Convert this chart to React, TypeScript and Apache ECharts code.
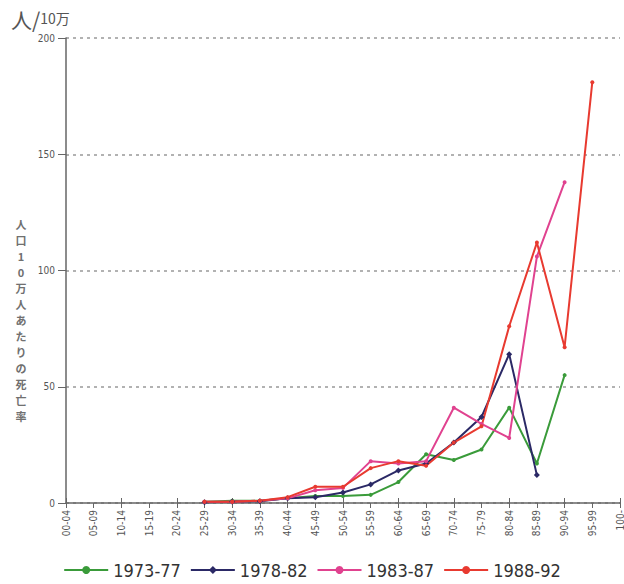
import React, { useEffect, useRef } from "react";
import * as echarts from "echarts";

const categories = ["00-04","05-09","10-14","15-19","20-24","25-29","30-34","35-39","40-44","45-49","50-54","55-59","60-64","65-69","70-74","75-79","80-84","85-89","90-94","95-99","100-"];
const seriesNames = ["1973-77", "1978-82", "1983-87", "1988-92"];
const s1973 = [null,null,null,null,null,0.5,1,1,2,3,3,3.5,9,21,18.5,23,41,17,55,null,null];
const s1978 = [null,null,null,null,null,0.3,0.5,0.8,2,2.5,4.5,8,14,17,26,37,64,12,null,null,null];
const s1983 = [null,null,null,null,null,0.5,0.5,1,2,5.5,6.5,18,17,18,41,34,28,106,138,null,null];
const s1988 = [null,null,null,null,null,0.5,0.5,1,2.5,7,7,15,18,16,26,33,76,112,67,181,null];
const yTicks = { min: 0, max: 200, interval: 50 };
const colors = ["#3a9b3a", "#2b2966", "#e0428f", "#e83a30"];
const yUnit = "人/10万";
const yTitle = "人口10万人あたりの死亡率";

export default function App() {
  const ref = useRef<HTMLDivElement>(null);
  useEffect(() => {
    document.body.style.margin = "0";
    const chart = echarts.init(ref.current!, null, { renderer: "svg" });
    const data = [s1973, s1978, s1983, s1988];
    const titleChars = yTitle.split("").map((ch, i) => ({
      type: "text",
      x: 21,
      y: 218 + i * 16,
      style: {
        text: ch,
        fontSize: 11,
        fontWeight: "bold",
        fill: "#707070",
        fontFamily: "Noto Sans CJK JP",
        align: "center",
        verticalAlign: "top",
      },
    }));
    chart.setOption({
      animation: false,
      backgroundColor: "#ffffff",
      textStyle: { fontFamily: "DejaVu Sans" },
      grid: { left: 66, right: 4, top: 38, bottom: 81, containLabel: false, outerBoundsMode: "none" },
      legend: {
        data: seriesNames,
        left: "center",
        top: 556,
        itemWidth: 44,
        itemHeight: 10,
        itemGap: 9,
        textStyle: { fontSize: 18, color: "#333", fontFamily: "DejaVu Sans Condensed, DejaVu Sans" },
      },
      graphic: [
        {
          type: "text",
          left: 11,
          top: 8,
          style: {
            text: "{a|人/}{b|10万}",
            rich: {
              a: { fontSize: 21, fill: "#555", fontFamily: "Noto Sans CJK JP" },
              b: { fontSize: 14, fill: "#555", fontFamily: "Noto Sans CJK JP" },
            },
          },
        },
        ...titleChars,
      ],
      xAxis: [
        {
          type: "category",
          data: categories,
          boundaryGap: false,
          axisLine: { lineStyle: { color: "#666", width: 1.5 } },
          axisTick: { alignWithLabel: true, length: 5, lineStyle: { color: "#666" } },
          axisLabel: { rotate: 90, fontSize: 10, color: "#555", margin: 7, interval: 0, fontFamily: "DejaVu Sans Condensed, DejaVu Sans" },
          splitLine: { show: false },
        },
        {
          type: "category",
          data: categories,
          boundaryGap: false,
          position: "bottom",
          axisLine: { show: false },
          axisTick: { inside: true, length: 5, lineStyle: { color: "#666" } },
          axisLabel: { show: false },
          splitLine: { show: false },
        },
      ],
      yAxis: {
        type: "value",
        min: yTicks.min,
        max: yTicks.max,
        interval: yTicks.interval,
        axisLine: { show: true, lineStyle: { color: "#666", width: 1.5 } },
        axisTick: { show: true, length: 8, lineStyle: { color: "#666" } },
        axisLabel: { fontSize: 10, color: "#555", margin: 11, fontFamily: "DejaVu Sans Condensed, DejaVu Sans" },
        splitLine: { show: true, lineStyle: { color: "#999", type: [3, 4], width: 1.5 } },
      },
      series: seriesNames.map((name, i) => ({
        name,
        type: "line",
        data: data[i],
        symbol: i === 1 ? "diamond" : "circle",
        symbolSize: i === 1 ? 6 : 4,
        showSymbol: true,
        connectNulls: false,
        lineStyle: { width: 2, color: colors[i] },
        itemStyle: { color: colors[i] },
      })),
    });
    return () => chart.dispose();
  }, []);
  return <div ref={ref} style={{ width: 624, height: 584 }} />;
}
